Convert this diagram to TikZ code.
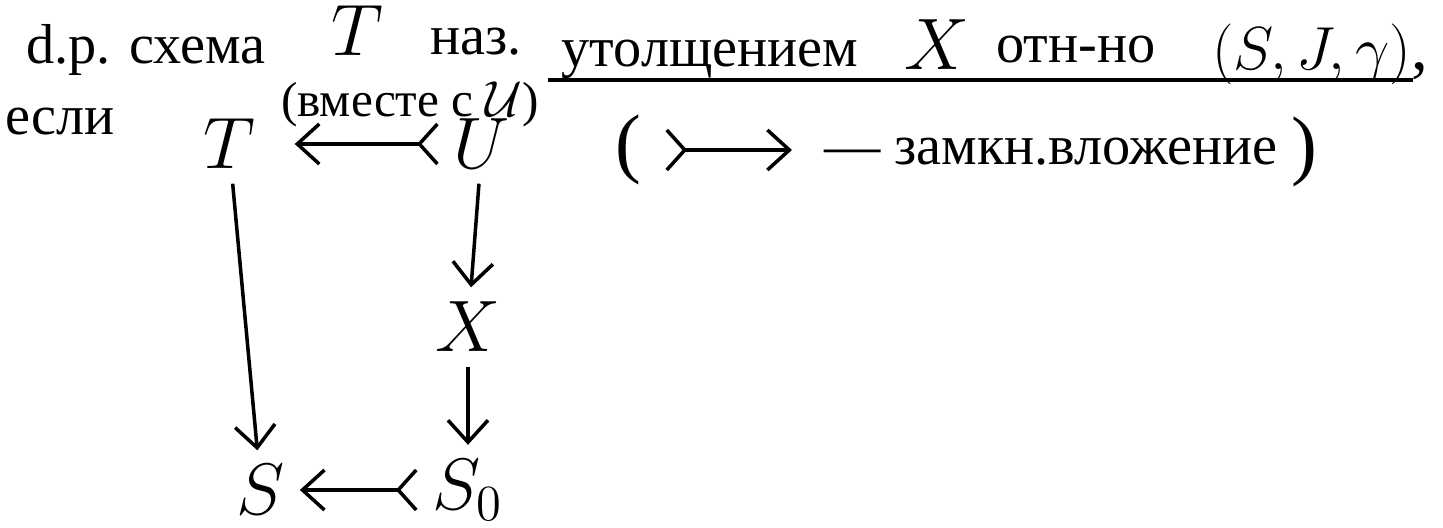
\documentclass[tikz,border=0pt]{standalone}
\usepackage{fontspec}
\setmainfont{Liberation Serif}
\usetikzlibrary{arrows.meta, positioning}

\begin{document}
\begin{tikzpicture}[x=0.01cm, y=-0.01cm,
    word/.style={font=\fontsize{16}{19}\selectfont, inner sep=0pt, anchor=base},
    obj/.style={font=\fontsize{20}{24}\selectfont, inner sep=4pt},
    bigobj/.style={font=\fontsize{22}{26}\selectfont, inner sep=0pt, anchor=base},
    paren/.style={font=\fontsize{22}{26}\selectfont, inner sep=0pt},
    map/.style={line width=1pt, -{Straight Barb[length=2.2mm, width=4mm]}},
    emb/.style={line width=1pt, {Straight Barb[reversed, length=1.8mm, width=4mm]}-{Straight Barb[length=2.2mm, width=4mm]}}]
    \useasboundingbox (0,0) rectangle (1443,528);

    % the definition line
    \node[word] (dp) at (146,64) {d.p. схема};
    \node[bigobj] (Tt) at (357,56) {$T$};
    \node[word] (naz) at (476,55) {наз.};
    \node[word] (thick) at (710,67) {утолщением};
    \node[bigobj] (Xt) at (937,70) {$X$};
    \node[word] (otn) at (1076,63) {отн-но};
    \node[word, font=\fontsize{19}{22}\selectfont] (sjg) at (1320,70) {$(S, J, \gamma)$,};
    \coordinate (ul1) at (548,80);
    \coordinate (ul2) at (1413,80);
    \draw[line width=1pt] (ul1) -- (ul2);
    \node[word, font=\fontsize{14}{17}\selectfont] (vm) at (410,117) {(вместе с $\mathcal{U}$)};
    \node[word] (esli) at (60,135) {если};

    % closed embedding legend
    \node[paren] (lp) at (628,150) {(};
    \coordinate (e1) at (665,150);
    \coordinate (e2) at (792,150);
    \draw[emb] (e1) -- (e2);
    \node[word] (zv) at (1051,165) {— замкн.вложение};
    \node[paren] (rp) at (1304,152) {)};

    % the diagram
    \node[obj] (T) at (229,144) {$T$};
    \node[obj] (U) at (482,144) {$U$};
    \node[obj] (X) at (468,327) {$X$};
    \node[obj] (S0) at (468,490) {$S_0$};
    \node[obj] (S) at (261,490) {$S$};
    \draw[emb, shorten >=2.5mm] (U) -- (T);
    \draw[map] (U) -- (X);
    \draw[map] (X) -- (S0);
    \draw[emb] (S0) -- (S);
    \draw[map] (T) -- (S);
\end{tikzpicture}
\end{document}
